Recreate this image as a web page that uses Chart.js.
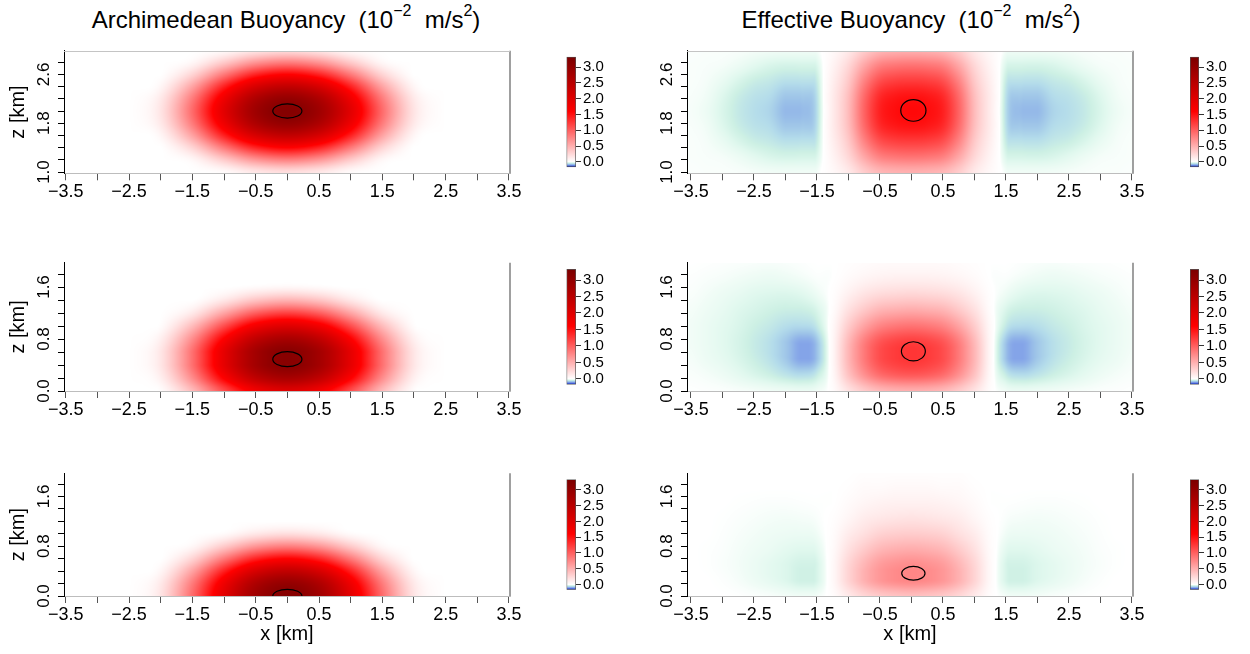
<!DOCTYPE html>
<html>
<head>
<meta charset="utf-8">
<script src="https://cdn.jsdelivr.net/npm/chart.js@4/dist/chart.umd.min.js"></script>
<style>
  body { margin: 0; background: #fff; width: 1250px; height: 654px; position: relative; overflow: hidden;
         font-family: "Liberation Sans", Arial, Helvetica, sans-serif; }
  canvas { position: absolute; }
  .ttl { position: absolute; top: 6px; font-size: 24px; line-height: 27px; white-space: nowrap;
         transform: translateX(-50%); color: #000; }
  .ttl .sp { font-size: 16px; position: relative; top: -12px; }
</style>
</head>
<body>
<div class="ttl" style="left:286px">Archimedean Buoyancy&nbsp; (10<span class="sp">−2</span>&nbsp; m/s<span class="sp">2</span>)</div>
<div class="ttl" style="left:911px">Effective Buoyancy&nbsp; (10<span class="sp">−2</span>&nbsp; m/s<span class="sp">2</span>)</div>
<script>
// ---- grids (km) ----
const archX = [-3.5, -3, -2.5, -2, -1.5, -1, -0.5, 0, 0.5, 1, 1.5, 2, 2.5, 3, 3.5];
const archZ1 = [1.0, 1.2, 1.4, 1.6, 1.8, 2.0, 2.2, 2.4, 2.6, 2.8, 3.0];
const archZ2 = [0, 0.2, 0.4, 0.6, 0.8, 1.0, 1.2, 1.4, 1.6, 1.8, 2.0];
const effX = [-3.5, -3.25, -3, -2.75, -2.5, -2.25, -2, -1.75, -1.5, -1.25, -1, -0.75, -0.5, -0.25, 0,
              0.25, 0.5, 0.75, 1, 1.25, 1.5, 1.75, 2, 2.25, 2.5, 2.75, 3, 3.25, 3.5];
const effZ1 = [1.0, 1.25, 1.5, 1.75, 2.0, 2.25, 2.5, 2.75, 3.0];
const effZ2 = [0, 0.25, 0.5, 0.75, 1.0, 1.25, 1.5, 1.75, 2.0];

// ---- Archimedean buoyancy (rows = z, low to high) ----
const archB1 = [
  [0,0,0,0,0,.03,.15,.21,.15,.03,0,0,0,0,0],
  [0,0,0,0,.05,.33,.66,.80,.66,.33,.05,0,0,0,0],
  [0,0,0,0,.27,.84,1.38,1.60,1.38,.84,.27,0,0,0,0],
  [0,0,0,.06,.58,1.40,2.12,2.40,2.12,1.40,.58,.06,0,0,0],
  [0,0,0,.14,.83,1.81,2.66,2.99,2.66,1.81,.83,.14,0,0,0],
  [0,0,0,.17,.93,1.97,2.85,3.20,2.85,1.97,.93,.17,0,0,0],
  [0,0,0,.14,.83,1.81,2.66,2.99,2.66,1.81,.83,.14,0,0,0],
  [0,0,0,.06,.58,1.40,2.12,2.40,2.12,1.40,.58,.06,0,0,0],
  [0,0,0,0,.27,.84,1.38,1.60,1.38,.84,.27,0,0,0,0],
  [0,0,0,0,.05,.33,.66,.80,.66,.33,.05,0,0,0,0],
  [0,0,0,0,0,.03,.15,.21,.15,.03,0,0,0,0,0]
];
const archB2 = [
  [0,0,0,.02,.43,1.12,1.76,2.01,1.76,1.12,.43,.02,0,0,0],
  [0,0,0,.10,.72,1.63,2.42,2.73,2.42,1.63,.72,.10,0,0,0],
  [0,0,0,.16,.90,1.93,2.80,3.15,2.80,1.93,.90,.16,0,0,0],
  [0,0,0,.16,.90,1.93,2.80,3.15,2.80,1.93,.90,.16,0,0,0],
  [0,0,0,.10,.72,1.63,2.42,2.73,2.42,1.63,.72,.10,0,0,0],
  [0,0,0,.02,.43,1.12,1.76,2.01,1.76,1.12,.43,.02,0,0,0],
  [0,0,0,0,.14,.57,1.01,1.19,1.01,.57,.14,0,0,0,0],
  [0,0,0,0,0,.15,.37,.47,.37,.15,0,0,0,0,0],
  [0,0,0,0,0,0,.03,.05,.03,0,0,0,0,0,0],
  [0,0,0,0,0,0,0,0,0,0,0,0,0,0,0],
  [0,0,0,0,0,0,0,0,0,0,0,0,0,0,0]
];
const archB3 = [
  [0,0,0,.17,.93,1.97,2.85,3.20,2.85,1.97,.93,.17,0,0,0],
  [0,0,0,.14,.83,1.81,2.66,2.99,2.66,1.81,.83,.14,0,0,0],
  [0,0,0,.06,.58,1.40,2.12,2.40,2.12,1.40,.58,.06,0,0,0],
  [0,0,0,0,.27,.84,1.38,1.60,1.38,.84,.27,0,0,0,0],
  [0,0,0,0,.05,.33,.66,.80,.66,.33,.05,0,0,0,0],
  [0,0,0,0,0,.03,.15,.21,.15,.03,0,0,0,0,0],
  [0,0,0,0,0,0,0,0,0,0,0,0,0,0,0],
  [0,0,0,0,0,0,0,0,0,0,0,0,0,0,0],
  [0,0,0,0,0,0,0,0,0,0,0,0,0,0,0],
  [0,0,0,0,0,0,0,0,0,0,0,0,0,0,0],
  [0,0,0,0,0,0,0,0,0,0,0,0,0,0,0]
];

// ---- Effective buoyancy (rows = z, low to high) ----
const effB1 = [
  [-.003,-.004,-.004,-.005,-.007,-.009,-.010,-.010,-.008,.04,.14,.32,.45,.49,.50,.49,.45,.32,.14,.04,-.008,-.010,-.010,-.009,-.007,-.005,-.004,-.004,-.003],
  [-.004,-.005,-.007,-.013,-.022,-.030,-.034,-.033,-.028,.07,.25,.55,.79,.86,.88,.86,.79,.55,.25,.07,-.028,-.033,-.034,-.030,-.022,-.013,-.007,-.005,-.004],
  [-.004,-.007,-.016,-.030,-.042,-.048,-.056,-.055,-.045,.10,.34,.77,1.10,1.20,1.22,1.20,1.10,.77,.34,.10,-.045,-.055,-.056,-.048,-.042,-.030,-.016,-.007,-.004],
  [-.005,-.010,-.026,-.043,-.054,-.060,-.076,-.075,-.055,.12,.41,.93,1.33,1.45,1.48,1.45,1.33,.93,.41,.12,-.055,-.075,-.076,-.060,-.054,-.043,-.026,-.010,-.005],
  [-.006,-.013,-.030,-.047,-.058,-.066,-.086,-.085,-.058,.12,.43,.98,1.40,1.52,1.55,1.52,1.40,.98,.43,.12,-.058,-.085,-.086,-.066,-.058,-.047,-.030,-.013,-.006],
  [-.005,-.010,-.026,-.043,-.054,-.060,-.076,-.075,-.055,.12,.41,.93,1.33,1.45,1.48,1.45,1.33,.93,.41,.12,-.055,-.075,-.076,-.060,-.054,-.043,-.026,-.010,-.005],
  [-.004,-.007,-.016,-.030,-.042,-.048,-.056,-.055,-.045,.10,.34,.77,1.10,1.20,1.22,1.20,1.10,.77,.34,.10,-.045,-.055,-.056,-.048,-.042,-.030,-.016,-.007,-.004],
  [-.004,-.005,-.007,-.013,-.022,-.030,-.034,-.033,-.028,.07,.25,.55,.79,.86,.88,.86,.79,.55,.25,.07,-.028,-.033,-.034,-.030,-.022,-.013,-.007,-.005,-.004],
  [-.003,-.004,-.004,-.005,-.007,-.009,-.010,-.010,-.008,.04,.14,.32,.45,.49,.50,.49,.45,.32,.14,.04,-.008,-.010,-.010,-.009,-.007,-.005,-.004,-.004,-.003]
];
const effB2 = [
  [-.001,-.002,-.003,-.005,-.007,-.010,-.012,-.014,-.010,.02,.18,.33,.44,.49,.50,.49,.44,.33,.18,.02,-.010,-.014,-.012,-.010,-.007,-.005,-.003,-.002,-.001],
  [-.004,-.007,-.012,-.020,-.030,-.040,-.052,-.060,-.045,.04,.38,.69,.92,1.02,1.05,1.02,.92,.69,.38,.04,-.045,-.060,-.052,-.040,-.030,-.020,-.012,-.007,-.004],
  [-.007,-.013,-.020,-.030,-.042,-.055,-.075,-.100,-.080,.05,.46,.84,1.12,1.23,1.27,1.23,1.12,.84,.46,.05,-.080,-.100,-.075,-.055,-.042,-.030,-.020,-.013,-.007],
  [-.009,-.015,-.023,-.033,-.045,-.057,-.076,-.098,-.078,.05,.44,.81,1.07,1.18,1.22,1.18,1.07,.81,.44,.05,-.078,-.098,-.076,-.057,-.045,-.033,-.023,-.015,-.009],
  [-.009,-.015,-.022,-.030,-.040,-.048,-.058,-.062,-.048,.04,.32,.58,.77,.85,.88,.85,.77,.58,.32,.04,-.048,-.062,-.058,-.048,-.040,-.030,-.022,-.015,-.009],
  [-.007,-.012,-.018,-.026,-.032,-.038,-.042,-.042,-.030,.02,.19,.34,.46,.50,.52,.50,.46,.34,.19,.02,-.030,-.042,-.042,-.038,-.032,-.026,-.018,-.012,-.007],
  [-.004,-.008,-.013,-.018,-.024,-.027,-.028,-.024,-.012,.01,.09,.17,.22,.24,.25,.24,.22,.17,.09,.01,-.012,-.024,-.028,-.027,-.024,-.018,-.013,-.008,-.004],
  [-.002,-.004,-.006,-.009,-.012,-.014,-.012,-.008,-.003,0,.03,.06,.08,.09,.09,.09,.08,.06,.03,0,-.003,-.008,-.012,-.014,-.012,-.009,-.006,-.004,-.002],
  [0,-.001,-.002,-.003,-.004,-.005,-.004,-.002,0,0,.01,.02,.03,.03,.03,.03,.03,.02,.01,0,0,-.002,-.004,-.005,-.004,-.003,-.002,-.001,0]
];
const effB3 = [
  [0,0,0,-.001,-.003,-.005,-.008,-.010,-.008,.02,.14,.26,.34,.38,.40,.38,.34,.26,.14,.02,-.008,-.010,-.008,-.005,-.003,-.001,0,0,0],
  [0,0,-.002,-.006,-.012,-.019,-.027,-.038,-.032,.04,.27,.49,.65,.73,.76,.73,.65,.49,.27,.04,-.032,-.038,-.027,-.019,-.012,-.006,-.002,0,0],
  [0,-.001,-.004,-.008,-.014,-.021,-.028,-.036,-.032,.04,.26,.46,.62,.69,.72,.69,.62,.46,.26,.04,-.032,-.036,-.028,-.021,-.014,-.008,-.004,-.001,0],
  [0,-.001,-.003,-.007,-.011,-.015,-.021,-.025,-.021,.03,.19,.33,.45,.50,.52,.50,.45,.33,.19,.03,-.021,-.025,-.021,-.015,-.011,-.007,-.003,-.001,0],
  [0,0,-.002,-.005,-.008,-.011,-.013,-.014,-.010,.02,.12,.20,.28,.31,.32,.31,.28,.20,.12,.02,-.010,-.014,-.013,-.011,-.008,-.005,-.002,0,0],
  [0,0,-.001,-.003,-.005,-.007,-.008,-.007,-.004,.01,.06,.12,.15,.17,.18,.17,.15,.12,.06,.01,-.004,-.007,-.008,-.007,-.005,-.003,-.001,0,0],
  [0,0,0,-.001,-.002,-.003,-.003,-.002,-.001,0,.03,.06,.08,.09,.09,.09,.08,.06,.03,0,-.001,-.002,-.003,-.003,-.002,-.001,0,0,0],
  [0,0,0,0,0,0,0,0,0,0,.01,.03,.03,.04,.04,.04,.03,.03,.01,0,0,0,0,0,0,0,0,0,0],
  [0,0,0,0,0,0,0,0,0,0,0,.01,.01,.01,.01,.01,.01,.01,0,0,0,0,0,0,0,0,0,0,0]
];

// ---- outlined regions: centre x, centre z, half widths (km) ----
const ellX  = [0, 0, 0, 0.03, 0.03, 0.03];
const ellZ  = [2.0, 0.49, 0.0, 2.01, 0.61, 0.365];
const ellRx = [0.23, 0.23, 0.23, 0.20, 0.19, 0.185];
const ellRz = [0.117, 0.115, 0.108, 0.178, 0.148, 0.11];

// ---- ticks ----
const xTickVals = [-3.5, -3, -2.5, -2, -1.5, -1, -0.5, 0, 0.5, 1, 1.5, 2, 2.5, 3, 3.5];
const xLabelVals = [-3.5, -2.5, -1.5, -0.5, 0.5, 1.5, 2.5, 3.5];
const zTicksTop = [1.0, 1.2, 1.4, 1.6, 1.8, 2.0, 2.2, 2.4, 2.6, 2.8];
const zLabelsTop = [1.0, 1.8, 2.6];
const zTicksLow = [0, 0.2, 0.4, 0.6, 0.8, 1.0, 1.2, 1.4, 1.6, 1.8];
const zLabelsLow = [0, 0.8, 1.6];
const cbTicks = [0, 0.5, 1, 1.5, 2, 2.5, 3];
const cbMin = -0.17, cbMax = 3.33;

// colour scale
const cmapVals = [-0.17, -0.13, -0.10, -0.08, -0.06, -0.04, -0.025, -0.01, 0, 1.6, 3.33];
const cmapCols = ['#101098', '#4a68d8', '#84a4e8', '#9cc2e8', '#b4dcea', '#cdf0e4', '#e0f8ee', '#f0fcf6', '#ffffff', '#ff0000', '#7a0000'];
const cmapRGB = cmapCols.map(h => [parseInt(h.slice(1, 3), 16), parseInt(h.slice(3, 5), 16), parseInt(h.slice(5, 7), 16)]);

function colorOf(v) {
  const n = cmapVals.length;
  if (v <= cmapVals[0]) return cmapRGB[0];
  if (v >= cmapVals[n - 1]) return cmapRGB[n - 1];
  let k = 0;
  while (v > cmapVals[k + 1]) k++;
  const f = (v - cmapVals[k]) / (cmapVals[k + 1] - cmapVals[k]);
  const a = cmapRGB[k], b = cmapRGB[k + 1];
  return [a[0] + (b[0] - a[0]) * f, a[1] + (b[1] - a[1]) * f, a[2] + (b[2] - a[2]) * f];
}

// smooth (clamped cubic) lookup between grid nodes, t = fractional index
function cubic(arr, t) {
  const n = arr.length;
  if (t <= 0) return arr[0];
  if (t >= n - 1) return arr[n - 1];
  const i = Math.floor(t), f = t - i;
  const p0 = arr[Math.max(i - 1, 0)], p1 = arr[i], p2 = arr[i + 1], p3 = arr[Math.min(i + 2, n - 1)];
  const m1 = (p2 - p0) / 2, m2 = (p3 - p1) / 2;
  const f2 = f * f, f3 = f2 * f;
  const v = (2 * f3 - 3 * f2 + 1) * p1 + (f3 - 2 * f2 + f) * m1 + (-2 * f3 + 3 * f2) * p2 + (f3 - f2) * m2;
  return Math.min(Math.max(p1, p2), Math.max(Math.min(p1, p2), v));
}

const near = (list, v) => list.some(l => Math.abs(l - v) < 1e-6);
const fmt = v => (v < -1e-9 ? '\u2212' : '') + Math.abs(v).toFixed(1);

Chart.defaults.font.family = '"Liberation Sans", Arial, Helvetica, sans-serif';
Chart.defaults.color = '#000';
Chart.defaults.animation = false;

const fieldPlugin = {
  id: 'field',
  beforeDatasetsDraw(chart) {
    const f = chart.data.datasets[0].field;
    const a = chart.chartArea, sx = chart.scales.x, sy = chart.scales.y;
    const x0 = Math.round(a.left), y0 = Math.round(a.top);
    const w = Math.round(a.right) - x0, h = Math.round(a.bottom) - y0;
    const dx = f.xs[1] - f.xs[0], dz = f.zs[1] - f.zs[0];
    const cols = [];
    for (let i = 0; i < w; i++) {
      const t = (sx.getValueForPixel(x0 + i + 0.5) - f.xs[0]) / dx;
      cols.push(f.vals.map(row => cubic(row, t)));
    }
    const off = document.createElement('canvas');
    off.width = w; off.height = h;
    const octx = off.getContext('2d');
    const img = octx.createImageData(w, h);
    for (let j = 0; j < h; j++) {
      const t = (sy.getValueForPixel(y0 + j + 0.5) - f.zs[0]) / dz;
      for (let i = 0; i < w; i++) {
        const c = colorOf(cubic(cols[i], t));
        const p = (j * w + i) * 4;
        img.data[p] = c[0]; img.data[p + 1] = c[1]; img.data[p + 2] = c[2]; img.data[p + 3] = 255;
      }
    }
    octx.putImageData(img, 0, 0);
    chart.ctx.drawImage(off, x0, y0);
  },
  afterDatasetsDraw(chart) {
    const ds = chart.data.datasets[1];
    const pt = chart.getDatasetMeta(1).data[0];
    const sx = chart.scales.x, sy = chart.scales.y, a = chart.chartArea, ctx = chart.ctx;
    const d = ds.data[0];
    const rx = Math.abs(sx.getPixelForValue(d.x + d.rx) - pt.x);
    const ry = Math.abs(sy.getPixelForValue(d.y + d.rz) - pt.y);
    ctx.save();
    ctx.beginPath(); ctx.rect(a.left, a.top, a.right - a.left, a.bottom - a.top); ctx.clip();
    ctx.beginPath(); ctx.ellipse(pt.x, pt.y, rx, ry, 0, 0, Math.PI * 2);
    ctx.strokeStyle = '#000'; ctx.lineWidth = 1.2; ctx.stroke();
    ctx.restore();
  },
  afterDraw(chart) {
    const a = chart.chartArea, ctx = chart.ctx;
    ctx.save();
    ctx.strokeStyle = '#888'; ctx.lineWidth = 1.6;
    ctx.beginPath(); ctx.moveTo(a.right, a.top); ctx.lineTo(a.right, a.bottom); ctx.stroke();
    if (chart.options.topLine) {
      ctx.strokeStyle = '#c4c4c4'; ctx.lineWidth = 1;
      ctx.beginPath(); ctx.moveTo(a.left, Math.round(a.top) + 0.5); ctx.lineTo(a.right, Math.round(a.top) + 0.5); ctx.stroke();
    }
    ctx.restore();
  }
};

function makePanel(p, field, ell) {
  const cv = document.createElement('canvas');
  const ctop = Math.floor(p.top) - 10;
  const padTop = p.top - ctop;
  const plotH = p.bottom - p.top;
  const ch = Math.round(padTop + plotH + p.below);
  const axisH = ch - padTop - plotH;
  const cw = Math.round(p.right - p.canvasLeft + 25);
  cv.width = cw; cv.height = ch;
  cv.style.left = p.canvasLeft + 'px'; cv.style.top = ctop + 'px';
  document.body.appendChild(cv);
  const yW = p.left - p.canvasLeft;
  new Chart(cv, {
    type: 'scatter',
    data: {
      datasets: [
        { label: 'field', data: [], field: field, pointRadius: 0 },
        { label: 'outline', data: [{ x: ellX[ell], y: ellZ[ell], rx: ellRx[ell], rz: ellRz[ell] }], pointRadius: 0 }
      ]
    },
    options: {
      responsive: false, devicePixelRatio: 1, topLine: p.topLine,
      layout: { padding: { top: padTop, right: cw - (p.right - p.canvasLeft), left: 0, bottom: 0 } },
      plugins: { legend: { display: false }, tooltip: { enabled: false } },
      scales: {
        x: {
          type: 'linear', min: p.xMin, max: p.xMax,
          afterBuildTicks: s => { s.ticks = xTickVals.map(v => ({ value: v })); },
          afterFit: s => { s.height = axisH; s.paddingLeft = 0; s.paddingRight = 0; },
          ticks: { autoSkip: false, maxRotation: 0, minRotation: 0, padding: 1, font: { size: 18 }, color: '#000',
                   callback: v => near(xLabelVals, v) ? fmt(v) : '' },
          grid: { drawOnChartArea: false, drawTicks: true, tickLength: 7, tickColor: '#555', color: '#555' },
          border: { display: true, color: '#bdbdbd', width: 1, z: 1 },
          title: { display: p.xTitle, text: 'x [km]', font: { size: 20 }, color: '#000', padding: { top: 0, bottom: 4 } }
        },
        y: {
          type: 'linear', position: 'left', min: p.zMin, max: p.zMax,
          afterBuildTicks: s => { s.ticks = p.zTicks.map(v => ({ value: v })); },
          afterFit: s => { s.width = yW; s.paddingTop = 0; s.paddingBottom = 0; },
          ticks: { autoSkip: false, minRotation: 90, maxRotation: 90, crossAlign: 'center', padding: 2,
                   font: { size: 17 }, color: '#000', callback: v => near(p.zLabels, v) ? v.toFixed(1) : '' },
          grid: { drawOnChartArea: false, drawTicks: true, tickLength: 6, tickColor: '#000', color: '#000' },
          border: { display: true, color: '#000', width: 1, z: 1 },
          title: { display: p.yTitle, text: 'z [km]', font: { size: 20 }, color: '#000', padding: { top: 6, bottom: 0 } }
        }
      }
    },
    plugins: [fieldPlugin]
  });
}

function makeColorbar(left, top, w, h) {
  const cv = document.createElement('canvas');
  const cl = Math.floor(left) - 4, ct = Math.floor(top) - 8;
  const padL = left - cl, padT = top - ct;
  const axisW = 40;
  const cw = Math.round(padL + w + axisW + 2);
  const chh = Math.round(padT + h + 8);
  cv.width = cw; cv.height = chh;
  cv.style.left = cl + 'px'; cv.style.top = ct + 'px';
  document.body.appendChild(cv);
  new Chart(cv, {
    type: 'bar',
    data: {
      labels: [''],
      datasets: [{
        data: [[cbMin, cbMax]], barPercentage: 1, categoryPercentage: 1,
        borderColor: '#555', borderWidth: 1, borderSkipped: false,
        backgroundColor: c => {
          const chart = c.chart;
          if (!chart.chartArea) return '#f00';
          const ys = chart.scales.y;
          const g = chart.ctx.createLinearGradient(0, ys.getPixelForValue(cbMin), 0, ys.getPixelForValue(cbMax));
          cmapVals.forEach((v, k) => g.addColorStop((v - cbMin) / (cbMax - cbMin), cmapCols[k]));
          return g;
        }
      }]
    },
    options: {
      responsive: false, devicePixelRatio: 1,
      layout: { padding: { left: padL, top: padT, right: 2, bottom: chh - padT - h } },
      plugins: { legend: { display: false }, tooltip: { enabled: false } },
      scales: {
        x: { display: false },
        y: {
          position: 'right', min: cbMin, max: cbMax,
          afterBuildTicks: s => { s.ticks = cbTicks.map(v => ({ value: v })); },
          afterFit: s => { s.width = axisW; s.paddingTop = 0; s.paddingBottom = 0; },
          ticks: { autoSkip: false, padding: 2, font: { size: 15 }, color: '#000', callback: v => v.toFixed(1) },
          grid: { drawOnChartArea: false, drawTicks: true, tickLength: 5, tickColor: '#333' },
          border: { display: false }
        }
      }
    }
  });
}

const leftSide = { canvasLeft: 0, left: 64, right: 510, xMin: -3.527, xMax: 3.516, yTitle: true };
const rightSide = { canvasLeft: 623, left: 687, right: 1133, xMin: -3.563, xMax: 3.516, yTitle: false };
const rowsLayout = [
  { top: 50.7, bottom: 173.3, zMin: 0.979, zMax: 2.989, below: 31, xTitle: false, topLine: true, zTicks: zTicksTop, zLabels: zLabelsTop },
  { top: 262.7, bottom: 391, zMin: 0, zMax: 1.974, below: 31, xTitle: false, topLine: false, zTicks: zTicksLow, zLabels: zLabelsLow },
  { top: 473.3, bottom: 596, zMin: 0, zMax: 1.972, below: 54, xTitle: true, topLine: false, zTicks: zTicksLow, zLabels: zLabelsLow }
];
const archFields = [
  { xs: archX, zs: archZ1, vals: archB1 },
  { xs: archX, zs: archZ2, vals: archB2 },
  { xs: archX, zs: archZ2, vals: archB3 }
];
const effFields = [
  { xs: effX, zs: effZ1, vals: effB1 },
  { xs: effX, zs: effZ2, vals: effB2 },
  { xs: effX, zs: effZ2, vals: effB3 }
];

rowsLayout.forEach((r, i) => {
  makePanel(Object.assign({}, leftSide, r), archFields[i], i);
  makePanel(Object.assign({}, rightSide, r), effFields[i], i + 3);
  const ph = r.bottom - r.top, bh = ph * 0.9, bt = r.top + (ph - bh) / 2;
  makeColorbar(566.5, bt, 9, bh);
  makeColorbar(1190, bt, 9, bh);
});
</script>
</body>
</html>
